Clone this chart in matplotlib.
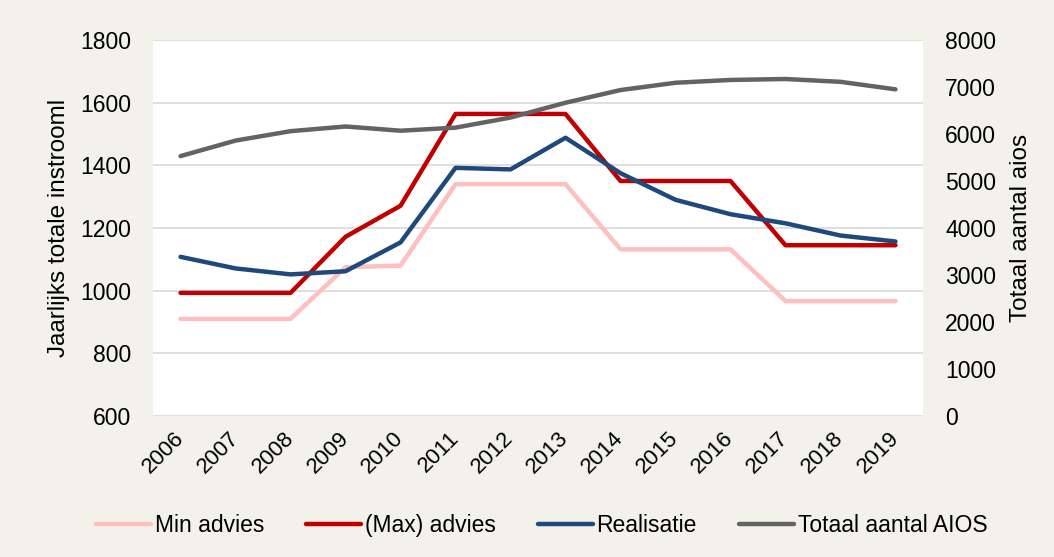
import matplotlib
matplotlib.use("Agg")
import matplotlib.pyplot as plt

plt.rcParams["font.family"] = ["Liberation Sans", "DejaVu Sans"]

# Data
years = [str(y) for y in range(2006, 2020)]
min_advies = [910, 910, 910, 1075, 1080, 1340, 1340, 1340, 1132, 1132, 1132, 967, 967, 967]
max_advies = [993, 993, 993, 1172, 1271, 1564, 1564, 1564, 1350, 1350, 1350, 1145, 1145, 1145]
realisatie = [1108, 1071, 1052, 1062, 1154, 1392, 1387, 1488, 1375, 1290, 1244, 1215, 1176, 1157]
totaal_aios = [5530, 5860, 6060, 6160, 6070, 6135, 6350, 6665, 6935, 7090, 7150, 7170, 7110, 6950]

bg = "#F2F1EA"
fs = 16.5

fig = plt.figure(figsize=(10.54, 5.57), dpi=100, facecolor=bg)
ax = fig.add_axes([0.1452, 0.2531, 0.7305, 0.6751])
ax2 = ax.twinx()

x = range(len(years))
lw = 3.2
l1, = ax.plot(x, min_advies, color="#FFBFBF", lw=lw, label="Min advies", solid_capstyle="round")
l2, = ax.plot(x, max_advies, color="#C00000", lw=lw, label="(Max) advies", solid_capstyle="round")
l3, = ax.plot(x, realisatie, color="#1F497D", lw=lw, label="Realisatie", solid_capstyle="round")
l4, = ax2.plot(x, totaal_aios, color="#636363", lw=lw, label="Totaal aantal AIOS", solid_capstyle="round")

ax.set_xlim(-0.5, len(years) - 0.5)
ax.set_ylim(600, 1800)
ax.set_yticks(range(600, 1801, 200))
ax2.set_ylim(0, 8000)
ax2.set_yticks(range(0, 8001, 1000))

ax.set_xticks(list(x))
ax.set_xticklabels(years, rotation=45, ha="right", va="center", rotation_mode="anchor", fontsize=16)
ax.tick_params(axis="y", length=0, labelsize=fs, pad=16)
ax.tick_params(axis="x", length=0, pad=14)
ax2.tick_params(axis="y", length=0, labelsize=fs, pad=16)

ax.grid(axis="y", color="#D9D9D9", lw=1.2)
ax.set_axisbelow(True)
for a in (ax, ax2):
    for s in a.spines.values():
        s.set_visible(False)
ax.set_facecolor("white")

ax.set_ylabel("Jaarlijks totale instrooml", fontsize=17.5)
ax.yaxis.set_label_coords(-0.108, 0.5)
ax2.set_ylabel("Totaal aantal aios", fontsize=17.5)
ax2.yaxis.set_label_coords(1.113, 0.5)

fig.legend(handles=[l1, l2, l3, l4], loc="center", bbox_to_anchor=(0.514, 0.057),
           ncol=4, frameon=False, fontsize=fs, handlelength=2.4, handletextpad=0.15,
           columnspacing=1.85)

fig.savefig("out.png", dpi=100, facecolor=bg)
